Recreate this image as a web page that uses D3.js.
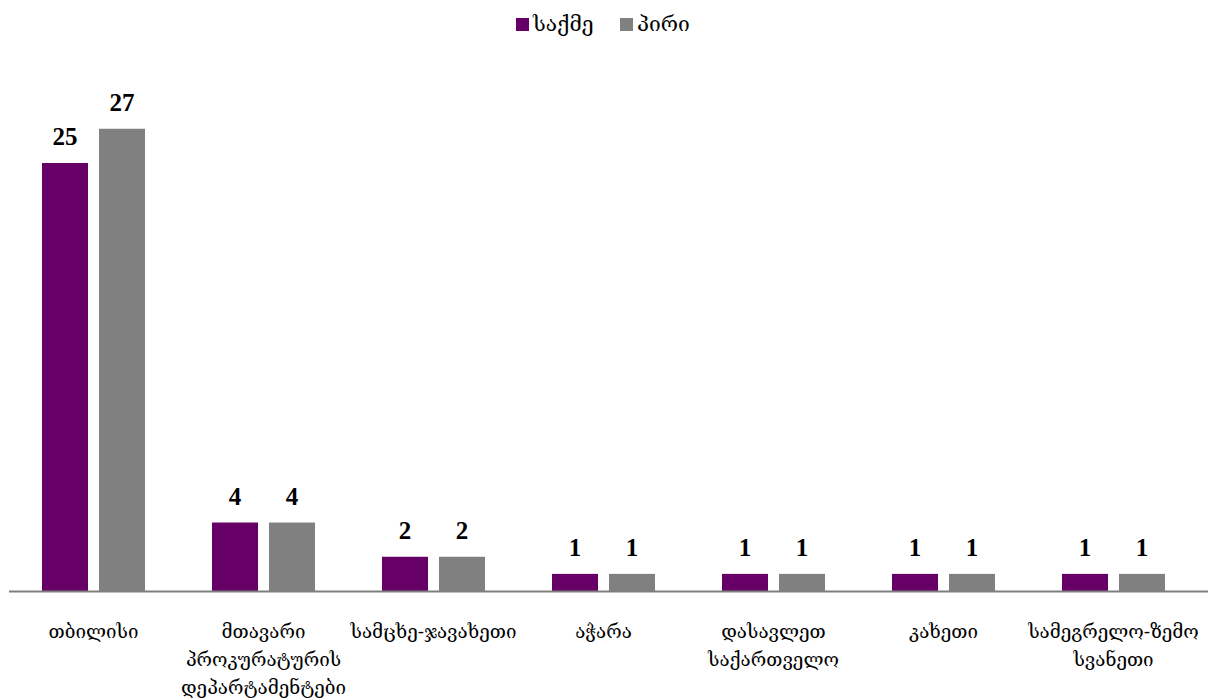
<!DOCTYPE html>
<html><head><meta charset="utf-8">
<script src="https://cdn.jsdelivr.net/npm/d3@7"></script>
<style>body{margin:0;background:#fff}</style>
</head><body>
<svg id="c" width="1208" height="698"></svg>
<script>
const categories = [
  ["თბილისი"],
  ["მთავარი", "პროკურატურის", "დეპარტამენტები"],
  ["სამცხე-ჯავახეთი"],
  ["აჭარა"],
  ["დასავლეთ", "საქართველო"],
  ["კახეთი"],
  ["სამეგრელო-ზემო", "სვანეთი"]
];
const seriesNames = ["საქმე", "პირი"];
const caseValues = [25, 4, 2, 1, 1, 1, 1];
const personValues = [27, 4, 2, 1, 1, 1, 1];
const colors = ["#660066", "#808080"];

const svg = d3.select("#c");
const baseY = 591;
const x = d3.scaleBand().domain(d3.range(categories.length)).range([8.5, 1198.5]).padding(0);
const y = d3.scaleLinear().domain([0, 27]).range([baseY, baseY - 27 * 17.12]);
const inner = d3.scaleBand().domain([0, 1]).range([0, 103]).paddingInner(11 / 57);
const series = [caseValues, personValues];
const georgianFont = "'DejaVu Serif', 'DejaVu Sans', serif";

series.forEach((vals, s) => {
  const g = svg.append("g");
  g.selectAll("rect").data(vals).enter().append("rect")
    .attr("x", (d, i) => x(i) + x.bandwidth() / 2 - 51.5 + inner(s))
    .attr("width", inner.bandwidth())
    .attr("y", d => y(d))
    .attr("height", d => baseY - y(d))
    .attr("fill", colors[s]);
  g.selectAll("text").data(vals).enter().append("text")
    .attr("x", (d, i) => x(i) + x.bandwidth() / 2 - 51.5 + inner(s) + inner.bandwidth() / 2)
    .attr("y", d => y(d) - 18)
    .attr("text-anchor", "middle")
    .attr("font-family", "'Liberation Serif', serif")
    .attr("font-weight", "bold")
    .attr("font-size", 25)
    .attr("fill", "#000")
    .text(d => d);
});

svg.append("line").attr("x1", 9).attr("x2", 1208).attr("y1", baseY + 0.5).attr("y2", baseY + 0.5)
  .attr("stroke", "#7f7f7f").attr("stroke-width", 2);

categories.forEach((lines, i) => {
  const t = svg.append("text")
    .attr("x", x(i) + x.bandwidth() / 2)
    .attr("y", 638)
    .attr("text-anchor", "middle")
    .attr("font-family", georgianFont)
    .attr("font-size", 18.8)
    .attr("fill", "#000");
  lines.forEach((ln, j) => {
    t.append("tspan").attr("x", x(i) + x.bandwidth() / 2).attr("dy", j === 0 ? 0 : 28).text(ln);
  });
});

// legend
const leg = svg.append("g");
const legX = [516, 620];
seriesNames.forEach((n, s) => {
  leg.append("rect").attr("x", legX[s]).attr("y", 18).attr("width", 13).attr("height", 13).attr("fill", colors[s]);
  leg.append("text").attr("x", legX[s] + 17).attr("y", 31)
    .attr("font-family", georgianFont).attr("font-size", 21).attr("fill", "#000").text(n);
});
</script>
</body></html>
